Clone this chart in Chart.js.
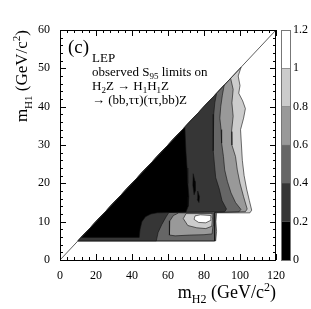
<!DOCTYPE html>
<html>
<head>
<meta charset="utf-8">
<script src="https://cdn.jsdelivr.net/npm/chart.js@4.4.1/dist/chart.umd.min.js"></script>
<style>
  html, body { margin: 0; padding: 0; background: #fff; }
  #wrap { position: relative; width: 311px; height: 309px; }
  #main { position: absolute; left: 0; top: 0; }
  #bar { position: absolute; left: 270px; top: 0; }
</style>
</head>
<body>
<div id="wrap">
  <canvas id="main" width="311" height="309"></canvas>
  <canvas id="bar" width="41" height="309"></canvas>
</div>
<script>
// tick labels
const xTicks = [0, 20, 40, 60, 80, 100, 120];
const yTicks = [0, 10, 20, 30, 40, 50, 60];
const levelTicks = [0, 0.2, 0.4, 0.6, 0.8, 1, 1.2];
const levelColors = ['#000000', '#363636', '#666666', '#999999', '#cccccc', '#ffffff'];

// kinematic limit m_H1 = m_H2 / 2
const diagonal = [[0, 0], [120, 60]];

// contour regions of S95, points are [m_H2, m_H1] in GeV
const below10 = [[10, 5], [100.6, 50.3], [99, 48], [100, 45.5], [99.3, 43.5], [101.5, 41.5], [103, 39.5], [102, 37],
  [100.3, 34], [100.8, 30], [101.3, 26], [102.3, 22], [103.7, 18.5], [105.2, 15.5], [106.5, 13], [105.5, 12.3],
  [87, 12.3], [86.6, 10], [87, 7.5], [86.5, 5], [10, 5]];
const below08 = [[10, 5], [94.8, 47.4], [96.2, 44.5], [95.5, 41], [96.2, 37.5], [95.3, 33.5], [95.5, 30], [97.5, 27],
  [98.5, 23.5], [100, 20], [102, 16.5], [104, 13.3], [103, 12.6], [86, 12.4], [86, 5], [10, 5]];
const below06 = [[10, 5], [91.2, 45.6], [90.2, 43], [89.3, 40], [88.8, 37], [89.5, 34], [89.8, 30.5], [90.8, 27],
  [91.5, 23.5], [93, 20.5], [95, 17.5], [97.5, 15], [100.5, 13.2], [99.5, 12.6], [86, 12.4], [85.8, 9], [86, 5], [10, 5]];
const patch08 = [[61, 6.5], [64, 6.3], [72, 6.5], [80, 6.6], [84.5, 6.8], [85, 9], [85.2, 12.2], [66, 12.3],
  [63, 11.6], [61, 10.2], [60.6, 8], [61, 6.5]];
const island10 = [[68.5, 10.8], [71, 9], [76, 8.4], [81, 8.2], [84.3, 8.8], [84.7, 11], [84.5, 12.1], [70, 12.1], [68.5, 10.8]];
const spot12 = [[74.5, 10.6], [77, 9.8], [81, 9.7], [83.5, 10.3], [83.8, 11.6], [78, 11.8], [75, 11.5], [74.5, 10.6]];
const below04 = [[10, 5], [87, 43.5], [86, 41], [85.4, 38], [85, 35], [85, 32], [85.4, 28.5], [85.8, 25], [86.5, 21.5],
  [88.5, 18.5], [90, 15.5], [92.5, 13.3], [91.5, 12.6], [60.5, 12.4], [59, 11.3], [56.5, 9.2], [54.5, 7.2], [53.5, 5], [10, 5]];
const below02 = [[11.8, 5.9], [69.4, 34.7], [69.6, 32], [70, 28], [70.6, 24], [71, 20], [71.6, 16.5], [71.2, 14],
  [70, 12.5], [54, 12.3], [50.5, 12], [47.5, 11.3], [45.5, 10], [44.5, 8], [44, 5.9], [11.8, 5.9]];
const spotA = [[74, 22.5], [75, 20.5], [75.2, 18], [74.5, 17], [73.8, 19.5], [74, 22.5]];
const spotB = [[76.5, 18], [77.5, 16.5], [77.2, 15], [76.2, 15.8], [76.5, 18]];

// bottom to top
const layers = [
  [below10, levelColors[4]],
  [below08, levelColors[3]],
  [below06, levelColors[2]],
  [patch08, levelColors[3]],
  [island10, levelColors[4]],
  [spot12, levelColors[5]],
  [below04, levelColors[1]],
  [below02, levelColors[0]],
  [spotA, levelColors[0]],
  [spotB, levelColors[0]]
];

const serif = 'Liberation Serif';
const pts = arr => arr.map(p => ({ x: p[0], y: p[1] }));

const datasets = layers.map(([poly, color]) => ({
  data: pts(poly),
  backgroundColor: color,
  borderColor: '#111',
  borderWidth: 0.6,
  pointRadius: 0,
  tension: 0,
  fill: 'shape'
}));
datasets.push({
  data: pts(diagonal),
  borderColor: '#333',
  borderWidth: 0.8,
  pointRadius: 0,
  fill: false
});
datasets.reverse();

// draw text runs with sub/superscripts
function runsWidth(ctx, runs) {
  let w = 0;
  for (const [t, size] of runs) {
    ctx.font = size + 'px "' + serif + '"';
    w += ctx.measureText(t).width;
  }
  return w;
}
function drawRuns(ctx, runs, x, y) {
  for (const [t, size, dy] of runs) {
    ctx.font = size + 'px "' + serif + '"';
    ctx.fillText(t, x, y + dy);
    x += ctx.measureText(t).width;
  }
}

const framePlugin = {
  id: 'frame',
  afterDatasetsDraw(chart) {
    const { ctx, chartArea: a, scales: { x, y } } = chart;
    ctx.save();
    ctx.strokeStyle = '#000';
    ctx.lineWidth = 1;
    ctx.strokeRect(a.left + 0.5, a.top + 0.5, a.right - a.left - 1, a.bottom - a.top);
    ctx.beginPath();
    for (let v = 0; v <= 120; v += 4) {
      const px = Math.round(x.getPixelForValue(v)) + 0.5;
      const len = v % 20 === 0 ? 6 : 3;
      ctx.moveTo(px, a.bottom); ctx.lineTo(px, a.bottom - len);
      ctx.moveTo(px, a.top); ctx.lineTo(px, a.top + len);
    }
    for (let v = 0; v <= 60; v += 2) {
      const py = Math.round(y.getPixelForValue(v)) + 0.5;
      const len = v % 10 === 0 ? 6 : 3;
      ctx.moveTo(a.left, py); ctx.lineTo(a.left + len, py);
      ctx.moveTo(a.right, py); ctx.lineTo(a.right - len, py);
    }
    ctx.stroke();
    ctx.restore();
  },
  afterDraw(chart) {
    const { ctx, chartArea: a } = chart;
    ctx.save();
    ctx.fillStyle = '#000';
    ctx.textBaseline = 'alphabetic';

    // x title, right aligned
    const xr = [['m', 18, 0], ['H2', 12, 5], [' (GeV/c', 18, 0], ['2', 12, -7], [')', 18, 0]];
    drawRuns(ctx, xr, a.right - runsWidth(ctx, xr), 298);

    // y title, rotated, top aligned
    const yr = [['m', 17, 0], ['H1', 11, 5], [' (GeV/c', 17, 0], ['2', 11, -7], [')', 17, 0]];
    ctx.save();
    ctx.translate(27, a.top + runsWidth(ctx, yr));
    ctx.rotate(-Math.PI / 2);
    drawRuns(ctx, yr, 0, 0);
    ctx.restore();

    // annotation
    drawRuns(ctx, [['(c)', 19, 0]], a.left + 8, 53);
    const tx = a.left + 32;
    drawRuns(ctx, [['LEP', 13, 0]], tx, 62);
    drawRuns(ctx, [['observed S', 13, 0], ['95', 9, 3], [' limits on', 13, 0]], tx, 76);
    drawRuns(ctx, [['H', 13, 0], ['2', 9, 3], ['Z \u2192 H', 13, 0], ['1', 9, 3], ['H', 13, 0], ['1', 9, 3], ['Z', 13, 0]], tx, 90);
    drawRuns(ctx, [['\u2192 (bb,\u03c4\u03c4)(\u03c4\u03c4,bb)Z', 13, 0]], tx, 104);
    ctx.restore();
  }
};

new Chart(document.getElementById('main'), {
  type: 'line',
  data: { datasets },
  options: {
    responsive: false,
    animation: false,
    layout: { padding: { left: 0, top: 30, right: 35, bottom: 0 } },
    plugins: { legend: { display: false }, tooltip: { enabled: false } },
    scales: {
      x: {
        type: 'linear', min: 0, max: 120,
        afterBuildTicks: s => { s.ticks = xTicks.map(v => ({ value: v })); },
        afterFit: s => { s.height = 49; },
        grid: { display: false, drawTicks: false },
        border: { display: false },
        ticks: { padding: 9, autoSkip: false, maxRotation: 0, color: '#000', font: { family: serif, size: 12 } }
      },
      y: {
        type: 'linear', min: 0, max: 60,
        afterBuildTicks: s => { s.ticks = yTicks.map(v => ({ value: v })); },
        afterFit: s => { s.width = 60; },
        grid: { display: false, drawTicks: false },
        border: { display: false },
        ticks: { padding: 10, autoSkip: false, color: '#000', font: { family: serif, size: 12 } }
      }
    }
  },
  plugins: [framePlugin]
});

// colour scale
const barFrame = {
  id: 'barFrame',
  afterDatasetsDraw(chart) {
    const { ctx, chartArea: a } = chart;
    ctx.save();
    ctx.strokeStyle = '#777';
    ctx.lineWidth = 1;
    ctx.strokeRect(a.left + 0.5, a.top + 0.5, a.right - a.left - 1, a.bottom - a.top);
    ctx.restore();
  }
};

new Chart(document.getElementById('bar'), {
  type: 'bar',
  data: {
    labels: [''],
    datasets: levelColors.map((c, i) => ({
      data: [levelTicks[i + 1] - levelTicks[i]],
      backgroundColor: c,
      borderColor: '#555',
      borderWidth: 0.5,
      barPercentage: 1,
      categoryPercentage: 1
    }))
  },
  options: {
    responsive: false,
    animation: false,
    layout: { padding: { left: 11, top: 30, right: 0, bottom: 49 } },
    plugins: { legend: { display: false }, tooltip: { enabled: false } },
    scales: {
      x: { display: false, stacked: true },
      y: {
        stacked: true, position: 'right', min: 0, max: 1.2,
        afterBuildTicks: s => { s.ticks = levelTicks.map(v => ({ value: v })); },
        afterFit: s => { s.width = 20; },
        grid: { display: false, drawTicks: false },
        border: { display: false },
        ticks: { padding: 2, color: '#000', font: { family: serif, size: 12 }, callback: v => String(v) }
      }
    }
  },
  plugins: [barFrame]
});
</script>
</body>
</html>
